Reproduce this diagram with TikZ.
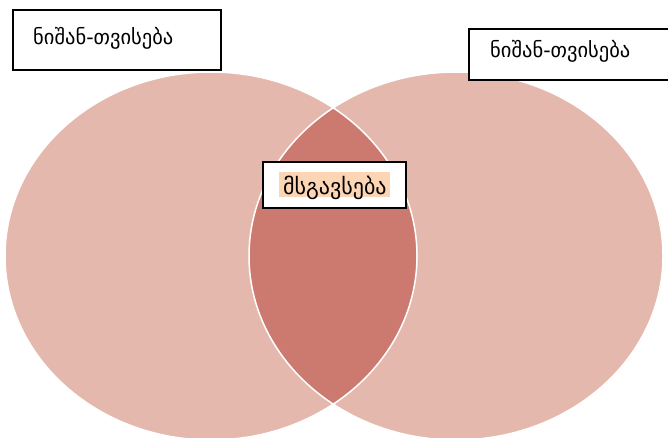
\documentclass[tikz,border=0pt]{standalone}
\usepackage{fontspec}
\newfontfamily\geofont{DejaVu Sans}
\definecolor{ellfill}{HTML}{E5B8AD}
\definecolor{lensfill}{HTML}{CC7A70}
\definecolor{hilite}{HTML}{FCD5B4}
\begin{document}
\begin{tikzpicture}[x=1pt,y=-1pt,
  labelbox/.style={draw=black,line width=1.6pt,fill=white,inner sep=0pt},
  labeltext/.style={font=\geofont\fontsize{20.5}{22}\selectfont,inner sep=0pt,anchor=west,text=black}]
\useasboundingbox (0,0) rectangle (668,438);
% ellipses
\fill[ellfill] (211,256) ellipse [x radius=206,y radius=184];
\fill[ellfill] (456,256) ellipse [x radius=207,y radius=184];
\begin{scope}
  \clip (211,256) ellipse [x radius=206,y radius=184];
  \fill[lensfill] (456,256) ellipse [x radius=207,y radius=184];
\end{scope}
\draw[white,line width=1.5pt] (211,256) ellipse [x radius=206,y radius=184];
\draw[white,line width=1.5pt] (456,256) ellipse [x radius=207,y radius=184];
% boxes
\node[labelbox,minimum width=208,minimum height=60] (boxL) at (117,40) {};
\node[labeltext] (txtL) at (33,38) {ნიშან-თვისება};
\node[labelbox,minimum width=200,minimum height=51] (boxR) at (569,54.5) {};
\node[labeltext] (txtR) at (490,51) {ნიშან-თვისება};
\node[labelbox,minimum width=143,minimum height=46] (boxM) at (334.5,185) {};
\node[fill=hilite,inner sep=0pt,minimum width=111,minimum height=25] (hl) at (334.5,184.5) {};
\node[labeltext,font=\geofont\fontsize{22}{24}\selectfont] (txtM) at (283,188) {მსგავსება};
\end{tikzpicture}
\end{document}
